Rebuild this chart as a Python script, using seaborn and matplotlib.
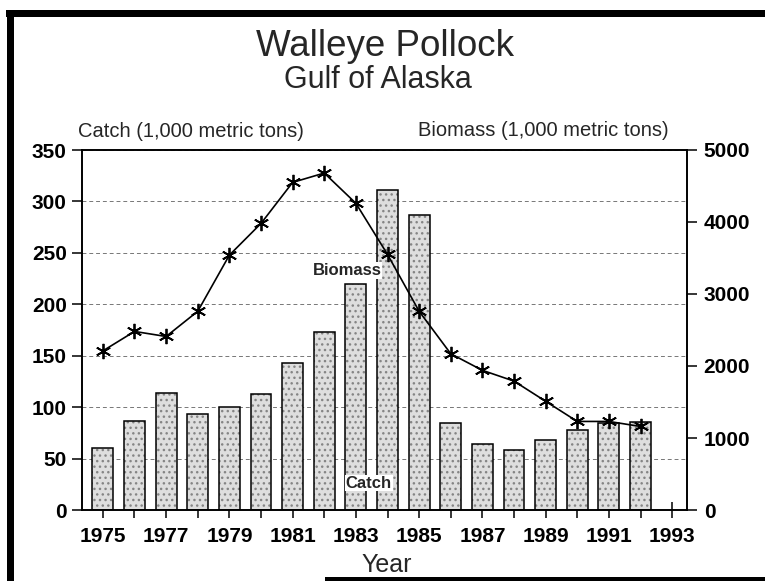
import numpy as np
import pandas as pd
import matplotlib
matplotlib.use("Agg")
import matplotlib.pyplot as plt
import seaborn as sns
from matplotlib.patches import Rectangle

# datos
years = list(range(1975, 1993))
catch = [60, 87, 114, 93, 100, 113, 143, 173, 220, 311, 287, 85, 64, 58, 68, 78, 85, 86]
biomass = [2210, 2480, 2410, 2760, 3540, 3980, 4550, 4680, 4260, 3550, 2760, 2170,
           1940, 1790, 1510, 1230, 1230, 1160]
year_ticks = list(range(1975, 1994))
year_labels = [str(y) if y % 2 == 1 else "" for y in year_ticks]
catch_ticks = [0, 50, 100, 150, 200, 250, 300, 350]
biomass_ticks = [0, 1000, 2000, 3000, 4000, 5000]

df = pd.DataFrame({"Year": years, "Catch": catch, "Biomass": biomass})

sns.set_theme(style="white")
plt.rcParams['font.family'] = ['Liberation Sans', 'DejaVu Sans']
plt.rcParams['hatch.linewidth'] = 1.0

W, H = 765, 581
fig = plt.figure(figsize=(W / 100, H / 100), dpi=100)
ax = fig.add_axes([82 / W, 1 - 510 / H, (687 - 82) / W, (510 - 150) / H])
ax.set_axisbelow(True)

# barras de captura (relleno punteado + contorno negro)
sns.barplot(data=df, x="Year", y="Catch", native_scale=True, width=0.66,
            color="#dedede", saturation=1, edgecolor="#858585", linewidth=0,
            hatch="...", errorbar=None, ax=ax)
sns.barplot(data=df, x="Year", y="Catch", native_scale=True, width=0.66,
            fill=False, color="black", saturation=1, linewidth=1.1,
            errorbar=None, ax=ax)

ax.set_ylim(0, 350)
ax.set_yticks(catch_ticks)
ax.yaxis.grid(True, linestyle=(0, (4, 3)), color="#777777", linewidth=0.7)

# biomasa en eje derecho
ax2 = ax.twinx()
sns.lineplot(data=df, x="Year", y="Biomass", ax=ax2, color="black", linewidth=1.2,
             marker=(6, 2, 0), markersize=11, markeredgewidth=1.3,
             markeredgecolor="black")
ax2.set_ylim(0, 5000)
ax2.set_yticks(biomass_ticks)

ax.set_xlim(1974.34, 1993.47)
ax.set_xticks(year_ticks)
ax.set_xticklabels(year_labels)

for a in (ax, ax2):
    a.set_xlabel("")
    a.set_ylabel("")
    for s in a.spines.values():
        s.set_color("black")
        s.set_linewidth(1.2)

tick_font = dict(labelsize=15, labelcolor="black", color="black", width=1.1)
ax.tick_params(axis="y", direction="out", length=7, pad=4, left=True, **tick_font)
ax.tick_params(axis="x", direction="inout", length=12, pad=6, bottom=True, **tick_font)
ax2.tick_params(axis="y", direction="out", length=7, pad=5, right=True, **tick_font)
for lab in ax.get_yticklabels() + ax.get_xticklabels() + ax2.get_yticklabels():
    lab.set_fontweight("bold")

# etiquetas dentro del gráfico
ax.text(1983.82, 233, "Biomass", ha="right", va="center", fontsize=12,
        fontweight="bold", bbox=dict(facecolor="white", edgecolor="none", pad=0.5))
ax.text(1984.14, 26, "Catch", ha="right", va="center", fontsize=12,
        fontweight="bold", bbox=dict(facecolor="white", edgecolor="none", pad=0.5))

# títulos
fig.text(385 / W, 1 - 56 / H, "Walleye Pollock", ha="center", va="baseline", fontsize=26.5)
fig.text(378 / W, 1 - 88 / H, "Gulf of Alaska", ha="center", va="baseline", fontsize=22)
fig.text(191 / W, 1 - 137 / H, "Catch (1,000 metric tons)", ha="center", va="baseline", fontsize=14.5)
fig.text(543 / W, 1 - 136 / H, "Biomass (1,000 metric tons)", ha="center", va="baseline", fontsize=14.5)
fig.text(387 / W, 1 - 572 / H, "Year", ha="center", va="baseline", fontsize=18)

# marco negro del escaneo
fig.add_artist(Rectangle((6 / W, 1 - 17 / H), 759 / W, 7 / H, transform=fig.transFigure,
                         facecolor="black", edgecolor="none"))
fig.add_artist(Rectangle((7 / W, 0), 7 / W, 1 - 10 / H, transform=fig.transFigure,
                         facecolor="black", edgecolor="none"))
fig.add_artist(Rectangle((325 / W, 0), 440 / W, 4 / H, transform=fig.transFigure,
                         facecolor="black", edgecolor="none"))

fig.savefig("out.png", dpi=100)
